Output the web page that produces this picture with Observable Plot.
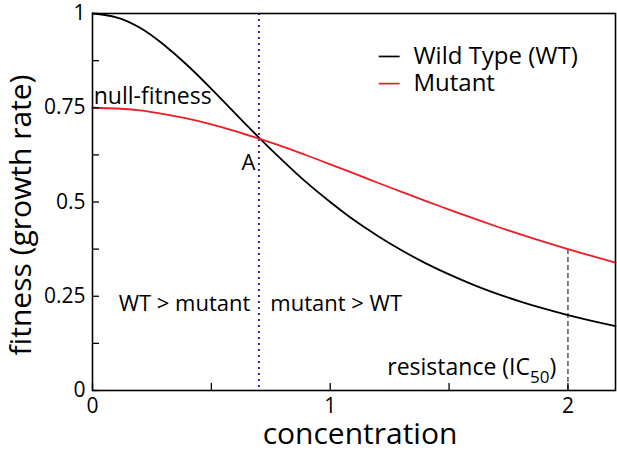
<!DOCTYPE html>
<html><head><meta charset="utf-8">
<script src="https://cdn.jsdelivr.net/npm/d3@7"></script>
<script src="https://cdn.jsdelivr.net/npm/@observablehq/plot@0.6"></script>
<style>body{margin:0;background:#fff}</style>
</head><body><div id="chart"></div>
<script>
// values
const concentration = [0,0.1,0.2,0.3,0.4,0.5,0.6,0.7,0.8,0.9,1.0,1.1,1.2,1.3,1.4,1.5,1.6,1.7,1.8,1.9,2.0,2.1,2.2];
const wildType = [1.0,0.990,0.962,0.917,0.862,0.800,0.735,0.671,0.610,0.552,0.500,0.452,0.410,0.372,0.338,0.308,0.281,0.257,0.236,0.217,0.200,0.185,0.171];
const mutant = [0.750,0.748,0.743,0.733,0.721,0.706,0.688,0.668,0.647,0.624,0.600,0.576,0.551,0.527,0.503,0.480,0.457,0.435,0.414,0.394,0.375,0.357,0.339];
const crossing = 0.7;
const ic50 = 2;
const ic50Fitness = 0.375;
const xTicks = [0,0.5,1,1.5,2];
const xTickLabels = [0,1,2];
const yTicks = [0,0.125,0.25,0.375,0.5,0.625,0.75,0.875,1];
const yTickLabels = [0,0.25,0.5,0.75,1];
const legendLabels = ["Wild Type (WT)","Mutant"];
const legendColors = ["#000000","#ee1c25"];

const W = 617, H = 452, mL = 92, mR = 2, mT = 13, mB = 62;
const pw = W - mL - mR, ph = H - mT - mB;
const legendY = [0.886, 0.814];

const chart = Plot.plot({
  width: W, height: H,
  marginLeft: mL, marginRight: mR, marginTop: mT, marginBottom: mB,
  x: {domain: [0, 2.2]},
  y: {domain: [0, 1]},
  style: {fontFamily: "'Open Sans', sans-serif", background: "white", color: "black", overflow: "visible"},
  marks: [
    Plot.ruleX([crossing], {stroke: "#2222cc", strokeWidth: 2, strokeDasharray: "2,4"}),
    Plot.ruleX([ic50], {y1: 0, y2: ic50Fitness, stroke: "black", strokeWidth: 1, strokeDasharray: "5,3"}),
    Plot.lineY(wildType, {x: concentration, stroke: "black", strokeWidth: 1.8, curve: "natural"}),
    Plot.lineY(mutant, {x: concentration, stroke: legendColors[1], strokeWidth: 1.8, curve: "natural"}),
    Plot.ruleY(yTicks, {stroke: "black", strokeWidth: 1.3, insetRight: pw - 7}),
    Plot.ruleX(xTicks, {stroke: "black", strokeWidth: 1.3, insetTop: ph - 7}),
    Plot.frame({stroke: "black", strokeWidth: 1.6}),
    Plot.axisX(xTickLabels, {tickSize: 0, tickPadding: 8, fontSize: 21, label: null, tickFormat: d => String(d)}),
    Plot.axisY(yTickLabels, {tickSize: 0, tickPadding: 7, fontSize: 21, label: null, tickFormat: d => String(d)}),
    Plot.text(["concentration"], {frameAnchor: "bottom", textAnchor: "middle", lineAnchor: "bottom", dy: 53, dx: 6, fontSize: 30}),
    Plot.text(["fitness (growth rate)"], {frameAnchor: "left", rotate: -90, textAnchor: "middle", lineAnchor: "bottom", dx: -62, dy: 13, fontSize: 30}),
    Plot.text(["null-fitness"], {x: 0.005, y: 0.759, textAnchor: "start", lineAnchor: "bottom", fontSize: 23}),
    Plot.text(["A"], {x: 0.685, y: 0.584, textAnchor: "end", lineAnchor: "bottom", fontSize: 22}),
    Plot.text(["WT > mutant"], {x: 0.664, y: 0.212, textAnchor: "end", lineAnchor: "bottom", fontSize: 22}),
    Plot.text(["mutant > WT"], {x: 0.748, y: 0.212, textAnchor: "start", lineAnchor: "bottom", fontSize: 22}),
    Plot.text(["resistance (IC50)"], {x: 1.24, y: 0.04, textAnchor: "start", lineAnchor: "bottom", fontSize: 23}),
    Plot.ruleY(legendLabels.map((d, i) => i), {y: i => legendY[i], x1: 1.206, x2: 1.294, stroke: i => legendColors[i], strokeWidth: 1.7}),
    Plot.text(legendLabels, {x: 1.35, y: (d, i) => legendY[i], textAnchor: "start", lineAnchor: "middle", fontSize: 24})
  ]
});
document.getElementById("chart").appendChild(chart);
// subscript for IC50
chart.querySelectorAll("text").forEach(t => {
  if (t.textContent === "resistance (IC50)") {
    t.textContent = "";
    const ns = "http://www.w3.org/2000/svg";
    const a = document.createElementNS(ns, "tspan"); a.textContent = "resistance (IC";
    const b = document.createElementNS(ns, "tspan"); b.textContent = "50"; b.setAttribute("dy", "8"); b.setAttribute("font-size", "17");
    const c = document.createElementNS(ns, "tspan"); c.textContent = ")"; c.setAttribute("dy", "-8");
    t.append(a, b, c);
  }
});
</script>
</body></html>
